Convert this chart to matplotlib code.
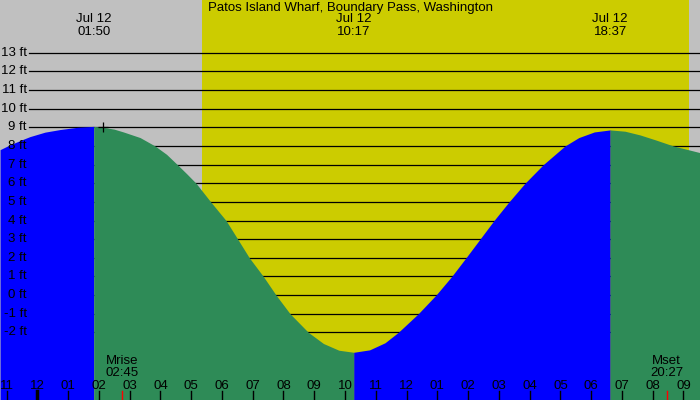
import matplotlib
matplotlib.use("Agg")
import matplotlib.pyplot as plt
import matplotlib.transforms as mtransforms

plt.rcParams['font.family'] = ['Liberation Sans', 'DejaVu Sans']

# ---- data (hours since 00:00 Jul 12; heights in ft) ----
title = "Patos Island Wharf, Boundary Pass, Washington"
tide_times = [-1.21, -0.90, -0.50, -0.24, 0.25, 0.74, 1.30, 1.833,
              2.15, 2.50, 2.80, 3.34, 3.825, 4.20, 4.55, 4.86, 5.158, 5.635, 6.133,
              6.513, 6.89, 7.345, 7.758, 8.213, 8.807, 9.30, 9.80, 10.283,
              10.80, 11.30, 11.732, 12.382, 12.958, 13.468, 13.932, 14.387, 14.842,
              15.33, 15.85, 16.445, 17.15, 17.60, 18.10, 18.617,
              19.10, 19.59, 20.10, 20.67, 21.54]
tide_heights = [7.80, 8.05, 8.33, 8.50, 8.74, 8.88, 9.00, 9.05,
                9.00, 8.90, 8.75, 8.45, 8.00, 7.55, 7.00, 6.50, 6.00, 5.00, 4.00,
                3.00, 2.00, 1.00, 0.00, -1.00, -2.00, -2.60, -2.96, -3.07,
                -2.94, -2.56, -2.00, -1.00, 0.00, 1.00, 2.00, 3.00, 4.00,
                5.00, 6.00, 7.00, 8.00, 8.45, 8.75, 8.86,
                8.79, 8.59, 8.32, 8.00, 7.64]
extremes_t = [1.833, 10.283, 18.617]
extremes_date = ["Jul 12", "Jul 12", "Jul 12"]
extremes_time = ["01:50", "10:17", "18:37"]
sunrise_t, sunset_t = 5.35, 21.18
moon_t = [2.75, 20.45]
moon_name = ["Mrise", "Mset"]
moon_time = ["02:45", "20:27"]
marker_t, marker_h = 2.15, 9.03
ft_levels = list(range(-2, 14))
hour_ticks = list(range(-1, 22))
hour_labels = ["11", "12", "01", "02", "03", "04", "05", "06", "07", "08", "09", "10",
               "11", "12", "01", "02", "03", "04", "05", "06", "07", "08", "09"]

GRAY = "#C0C0C0"
YELLOW = "#CCCC00"
BLUE = "#0000FF"
GREEN = "#2E8B57"
FS = 9.5

fig = plt.figure(figsize=(7, 4), dpi=100)
fig.patch.set_facecolor(GRAY)
ax = fig.add_axes([0, 0, 1, 1])
ax.set_facecolor(GRAY)
ax.set_xlim(-1.212, 21.537)
ax.set_ylim(-5.63, 15.83)
ax.axis("off")

ax.axvspan(sunrise_t, sunset_t, color=YELLOW, zorder=0, lw=0)

for lv in ft_levels:
    ax.axhline(lv, xmin=29 / 700, xmax=1, color="black", lw=0.9, zorder=1)

blended = mtransforms.blended_transform_factory(ax.transAxes, ax.transData)
for lv in ft_levels:
    ax.text(27 / 700, lv, f"{lv} ft", transform=blended, ha="right", va="center",
            fontsize=FS, zorder=5)

# fill tide: blue rising, green falling
bounds = [tide_times[0]] + extremes_t + [tide_times[-1]]
colors = [BLUE, GREEN, BLUE, GREEN]
for i, c in enumerate(colors):
    lo, hi = bounds[i], bounds[i + 1]
    xs = [t for t in tide_times if lo <= t <= hi]
    ys = [h for t, h in zip(tide_times, tide_heights) if lo <= t <= hi]
    ax.fill_between(xs, ys, -10, color=c, lw=0, zorder=2, antialiased=True)

ax.plot([marker_t], [marker_h], marker="+", color="black", ms=7, mew=0.9, zorder=6)

# top labels
fig.text(0.5, 1 - 7.5 / 400, title, ha="center", va="center", fontsize=FS)
tr_top = mtransforms.blended_transform_factory(ax.transData, fig.transFigure)
for t, d, hm in zip(extremes_t, extremes_date, extremes_time):
    ax.text(t, 1 - 19 / 400, d, transform=tr_top, ha="center", va="center", fontsize=FS)
    ax.text(t, 1 - 32 / 400, hm, transform=tr_top, ha="center", va="center", fontsize=FS)

# moon labels
for t, nm, hm in zip(moon_t, moon_name, moon_time):
    ax.text(t, 1 - 361 / 400, nm, transform=tr_top, ha="center", va="center",
            fontsize=FS, zorder=5)
    ax.text(t, 1 - 373 / 400, hm, transform=tr_top, ha="center", va="center",
            fontsize=FS, zorder=5)
    ax.plot([t, t], [0, 9 / 400], transform=tr_top, color="red", lw=1.0, zorder=6)

# hour ticks
for t, lbl in zip(hour_ticks, hour_labels):
    ax.text(t, 1 - 386 / 400, lbl, transform=tr_top, ha="center", va="center",
            fontsize=FS, zorder=5)
    ax.plot([t, t], [0, 9 / 400], transform=tr_top, color="black",
            lw=2.5 if t == 0 else 1.0, zorder=6)

fig.savefig("out.png", dpi=100, facecolor=GRAY)
